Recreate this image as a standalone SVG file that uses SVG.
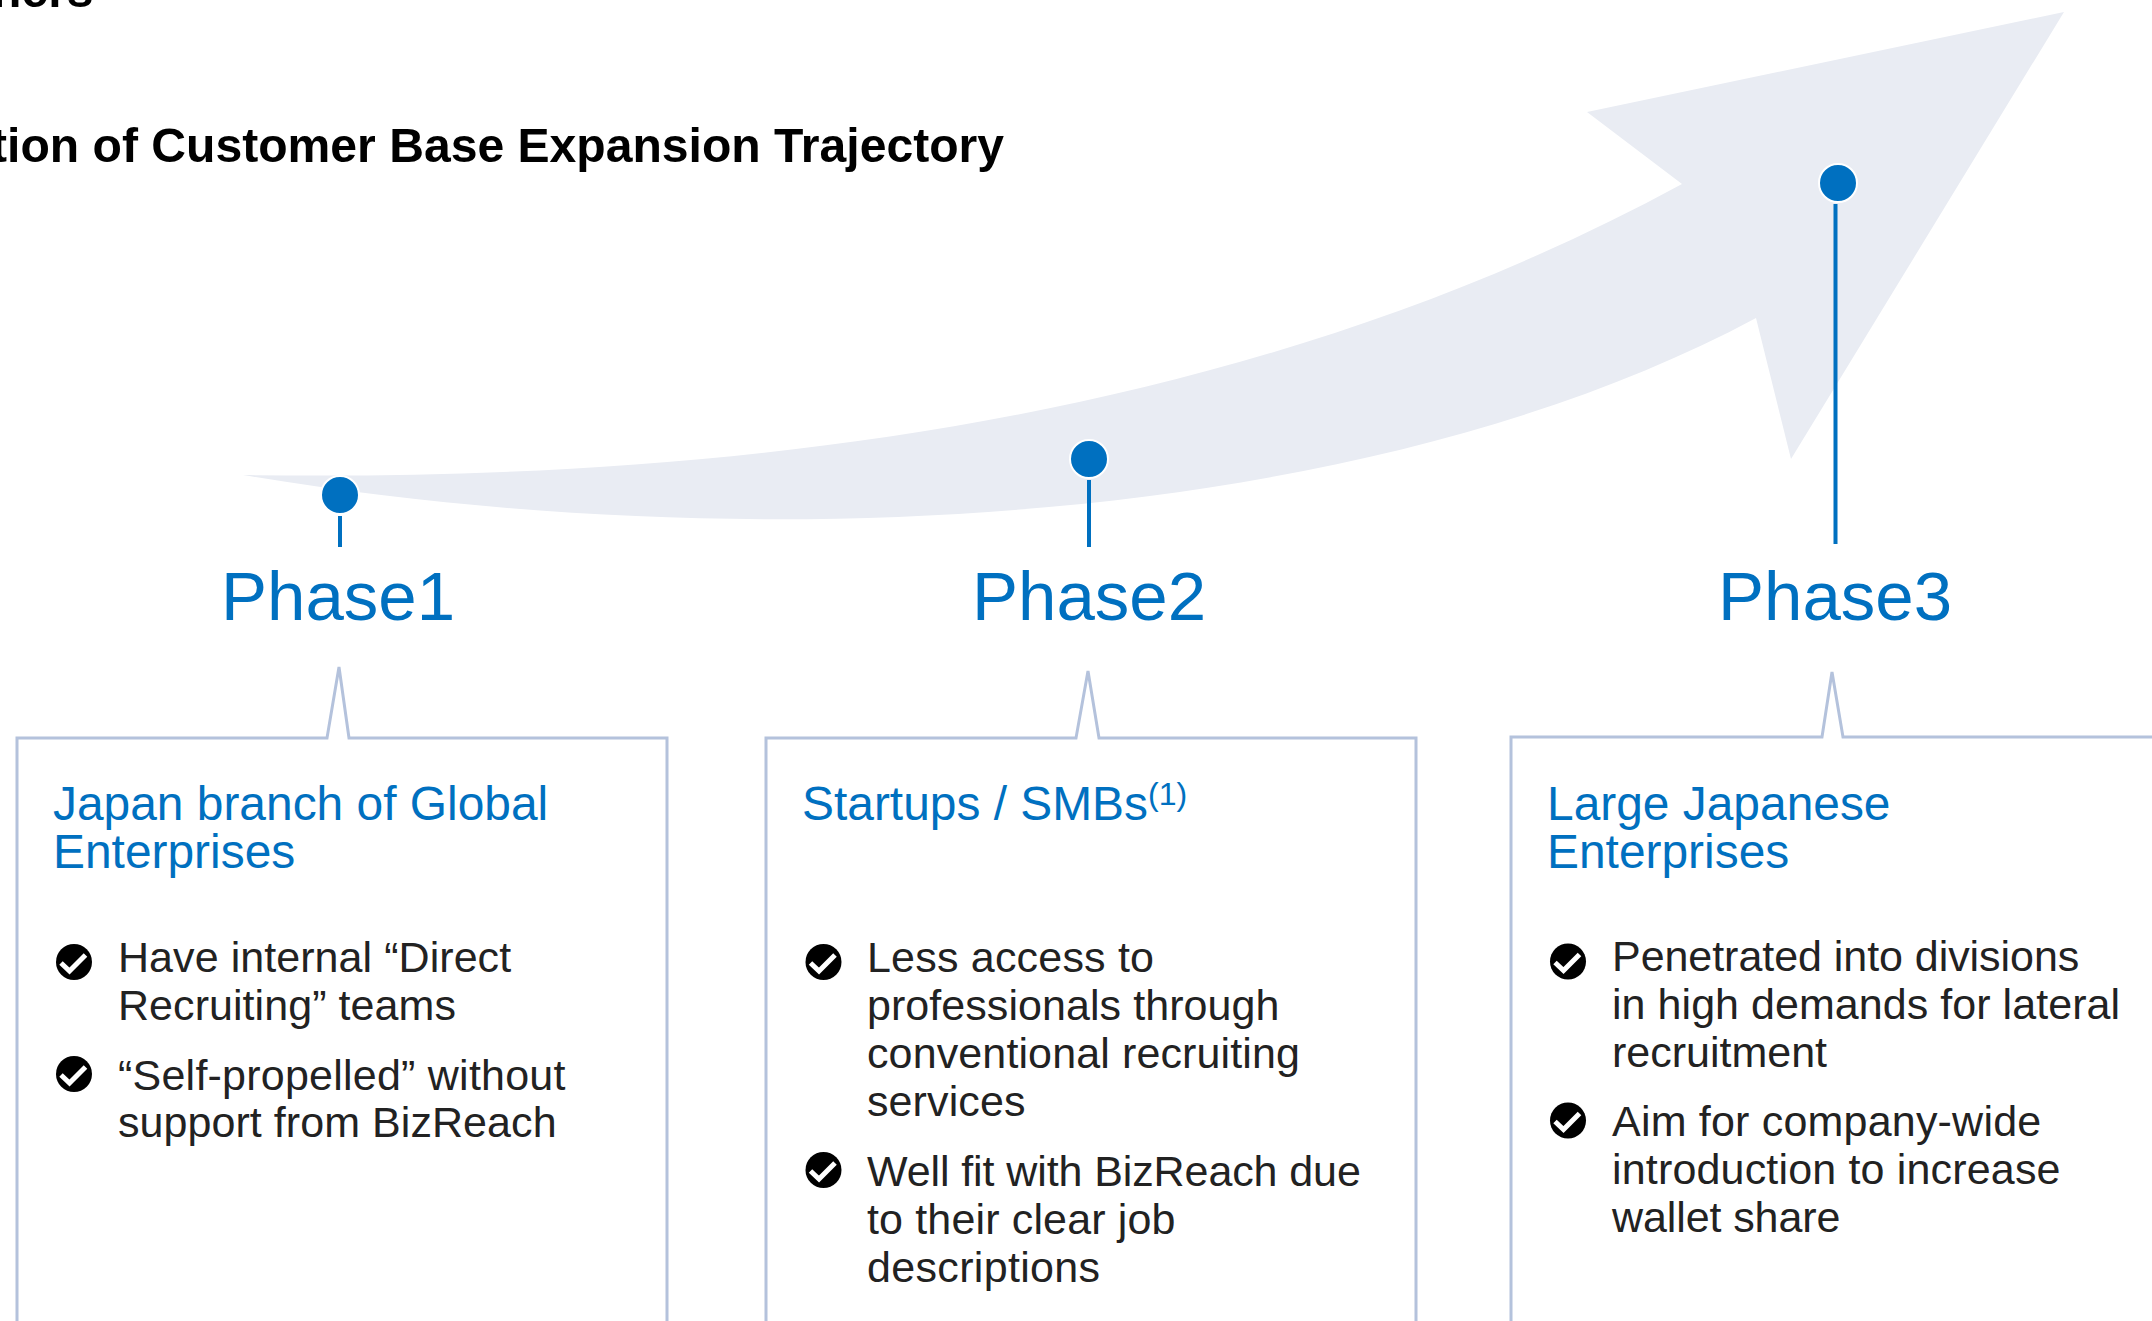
<svg xmlns="http://www.w3.org/2000/svg" width="2152" height="1321" viewBox="0 0 2152 1321">
<style>
text{font-family:"Liberation Sans",Arial,sans-serif}
.t{font-weight:700;font-size:48.100px;fill:#000}
.ph{font-size:69px;fill:#0070c0;text-anchor:middle}
.h{font-size:47.900px;fill:#0070c0}
.b{font-size:43px;fill:#222}
.box{fill:none;stroke:#b4c2dc;stroke-width:3}
.dot{fill:#0070c0;stroke:#fff;stroke-width:2}
.ln{stroke:#0070c0;stroke-width:4;fill:none}
.ck{fill:none;stroke:#fff;stroke-width:5}
</style>
<defs>
<g id="check"><circle r="18" fill="#000"/><path class="ck" d="M-13,1 L-4.500,9 L11.500,-7"/></g>
</defs>
<rect width="2152" height="1321" fill="#fff"/>
<text class="t" x="-8" y="7">ners</text>
<text class="t" x="1004" y="162" text-anchor="end">tion of Customer Base Expansion Trajectory</text>
<path id="arrow" fill="#e9ecf3" d="M243,475 C700,482 1230,430 1682,184 L1587,112 L2064,12 L1791,459 L1756,318 C1380,520 780,565 243,475 Z"/>
<g id="connectors">
<line class="ln" x1="340" y1="516" x2="340" y2="547"/>
<line class="ln" x1="1089" y1="480" x2="1089" y2="547"/>
<line class="ln" x1="1835.500" y1="204" x2="1835.500" y2="544"/>
</g>
<g id="phase1">
<circle class="dot" cx="340" cy="495" r="19"/>
<text class="ph" x="338" y="620">Phase1</text>
<path class="box" d="M17,1330 V738 H327 L339,667 L349,738 H667 V1330"/>
<text class="h" x="53" y="819.500">Japan branch of Global</text>
<text class="h" x="53" y="867.500">Enterprises</text>
<use href="#check" x="74" y="962"/>
<text class="b" x="118" y="972.400" letter-spacing=".06">Have internal “Direct</text>
<text class="b" x="118" y="1020.400" letter-spacing=".06">Recruiting” teams</text>
<use href="#check" x="74" y="1074"/>
<text class="b" x="118" y="1090.400" letter-spacing=".23">“Self-propelled” without</text>
<text class="b" x="118" y="1137.400" letter-spacing=".06">support from BizReach</text>
</g>
<g id="phase2">
<circle class="dot" cx="1089" cy="459" r="19"/>
<text class="ph" x="1089" y="620">Phase2</text>
<path class="box" d="M766,1330 V738 H1076 L1088,671 L1099,738 H1416 V1330"/>
<text class="h" x="802" y="819.500">Startups / SMBs<tspan font-size="32" dy="-15">(1)</tspan></text>
<use href="#check" x="823.500" y="962"/>
<text class="b" x="867" y="972.400" letter-spacing=".2">Less access to</text>
<text class="b" x="867" y="1020.400" letter-spacing=".06">professionals through</text>
<text class="b" x="867" y="1068.400" letter-spacing=".12">conventional recruiting</text>
<text class="b" x="867" y="1116.400" letter-spacing=".1">services</text>
<use href="#check" x="823.500" y="1170"/>
<text class="b" x="867" y="1185.500" letter-spacing="-.1">Well fit with BizReach due</text>
<text class="b" x="867" y="1233.500" letter-spacing=".15">to their clear job</text>
<text class="b" x="867" y="1281.500" letter-spacing=".33">descriptions</text>
</g>
<g id="phase3">
<circle class="dot" cx="1838" cy="183" r="19"/>
<text class="ph" x="1835" y="620">Phase3</text>
<path class="box" d="M1511,1330 V737 H1822 L1832,672 L1843,737 H2160"/>
<text class="h" x="1547" y="819.500">Large Japanese</text>
<text class="h" x="1547" y="867.500">Enterprises</text>
<use href="#check" x="1568" y="961.500"/>
<text class="b" x="1612" y="971.400" letter-spacing="-.05">Penetrated into divisions</text>
<text class="b" x="1612" y="1019.400" letter-spacing=".05">in high demands for lateral</text>
<text class="b" x="1612" y="1067.400">recruitment</text>
<use href="#check" x="1568" y="1120.500"/>
<text class="b" x="1612" y="1136.400" letter-spacing=".2">Aim for company-wide</text>
<text class="b" x="1612" y="1184.400" letter-spacing=".17">introduction to increase</text>
<text class="b" x="1612" y="1232.400" letter-spacing="-.1">wallet share</text>
</g>
</svg>
